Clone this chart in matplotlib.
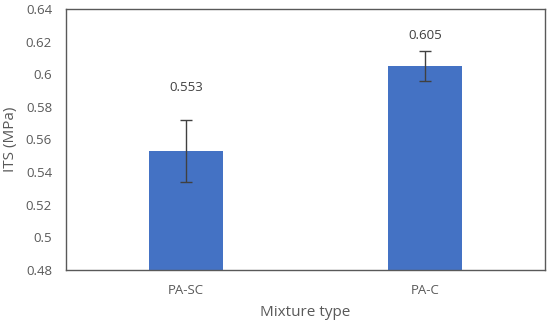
import matplotlib
matplotlib.use("Agg")
import matplotlib.pyplot as plt

# ── Data ──────────────────────────────────────────────────────────────────────
CATEGORIES = ["PA-SC", "PA-C"]
ITS_MEAN   = [0.553, 0.605]
ITS_ERR    = [0.019, 0.009]
LABEL_Y    = [0.592, 0.6235]   # where Excel put the value labels
LABELS     = ["0.553", "0.605"]

plt.rcParams["font.family"] = ["Open Sans", "DejaVu Sans"]

fig = plt.figure(figsize=(5.5, 3.24), dpi=100)
ax = fig.add_axes([66 / 550, 1 - 270 / 324, (545 - 66) / 550, (270 - 9) / 324])

x = list(range(len(CATEGORIES)))
ax.bar(x, ITS_MEAN, width=0.31, color="#4472C4", zorder=2)
ax.errorbar(x, ITS_MEAN, yerr=ITS_ERR, fmt="none", ecolor="#404040",
            elinewidth=1.0, capsize=4, capthick=1.0, zorder=3)
for xi, ly, txt in zip(x, LABEL_Y, LABELS):
    ax.text(xi, ly, txt, ha="center", va="center", fontsize=9.5, color="#404040")

ax.set_xlim(-0.5, 1.5)
ax.set_ylim(0.48, 0.64)
ax.set_yticks([0.48, 0.5, 0.52, 0.54, 0.56, 0.58, 0.6, 0.62, 0.64])
ax.set_yticklabels(["0.48", "0.5", "0.52", "0.54", "0.56", "0.58", "0.6", "0.62", "0.64"])
ax.set_xticks(x)
ax.set_xticklabels(CATEGORIES)
ax.tick_params(length=0, labelsize=9.5, labelcolor="#595959")
ax.tick_params(axis="y", pad=10)
ax.tick_params(axis="x", pad=10)

for s in ax.spines.values():
    s.set_color("#595959")
    s.set_linewidth(1.0)

ax.set_xlabel("Mixture type", fontsize=11, color="#595959", labelpad=6)
ax.set_ylabel("ITS (MPa)", fontsize=11, color="#595959", labelpad=6)

fig.savefig("out.png", dpi=100)
